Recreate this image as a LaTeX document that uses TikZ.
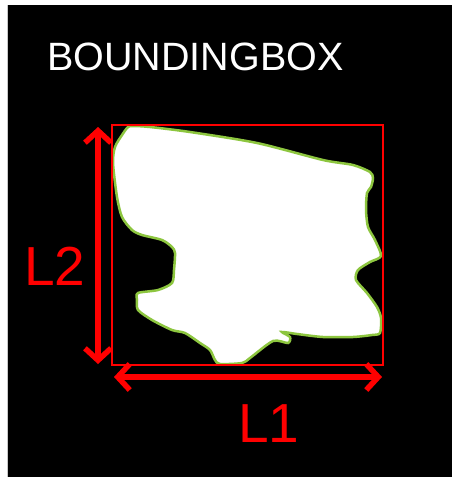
\documentclass[tikz,border=0pt]{standalone}
\usepackage{fontspec}
\setmainfont{Liberation Sans}
\usetikzlibrary{arrows.meta}
\definecolor{bbRed}{HTML}{FF0000}
\definecolor{bbEdge}{HTML}{8DC63F}
\definecolor{bbFrame}{HTML}{C8C8C8}
\tikzset{
    bbTitle/.style={
        anchor=base west,
        inner sep=0pt,
        text=white,
        font=\fontsize{39.5}{39.5}\selectfont
    },
    bbLabel/.style={
        anchor=base west,
        inner sep=0pt,
        text=bbRed,
        font=\fontsize{55}{55}\selectfont
    },
    bbBlob/.style={fill=white, draw=bbEdge, line width=2.5pt},
    bbBox/.style={draw=bbRed, line width=1.6pt},
    % Arrows
    bbArrow/.style={
        {Straight Barb[length=12pt, width=26pt]}-{Straight Barb[length=12pt, width=26pt]},
        draw=bbRed, line width=5.5pt, shorten <=2pt, shorten >=2pt
    }
}
\begin{document}
\begin{tikzpicture}[x=1pt, y=-1pt]
    \useasboundingbox (0,0) rectangle (452,477);
    \fill[white] (0,0) rectangle (452,477);
    \fill[black] (8,5) rectangle (460,485);
    \draw[bbFrame, line width=1pt] (7.5,5) -- (7.5,477);
    % the object
    \draw[bbBlob] plot[smooth cycle, tension=0.45] coordinates {
        (133,126) (150,127) (190,132) (257,143) (323,160) (353,165)
        (370,172) (373,178) (371,187) (367,193) (366,210) (368,227)
        (375,240) (381,256) (370,262) (358,270) (356,280) (367,293)
        (377,307) (381,318) (380,333) (372,335) (353,337) (323,337)
        (297,334) (282,332) (290,337) (288,343) (273,341) (250,358)
        (242,363) (220,364) (215,360) (210,350) (200,343) (185,333)
        (172,330) (152,320) (138,310) (137,300) (138,293) (158,290)
        (172,283) (174,270) (175,253) (172,247) (162,240) (142,235)
        (132,230) (122,217) (117,197) (113,163) (115,147) (122,135)
        (128,127)};
    % bounding box
    \coordinate (boxNW) at (112,125);
    \coordinate (boxSE) at (383,365);
    \draw[bbBox] (boxNW) rectangle (boxSE);
    % dimensions
    \coordinate (l2Top) at (98,125);
    \coordinate (l2Bot) at (98,366);
    \coordinate (l1Left) at (112,377);
    \coordinate (l1Right) at (384,377);
    \draw[bbArrow] (l2Top) -- (l2Bot);
    \draw[bbArrow] (l1Left) -- (l1Right);
    % texts
    \node[bbTitle] (title) at (47,70) {BOUNDINGBOX};
    \node[bbLabel] (lenTwo) at (24,285) {L2};
    \node[bbLabel] (lenOne) at (238,442) {L1};
\end{tikzpicture}
\end{document}
